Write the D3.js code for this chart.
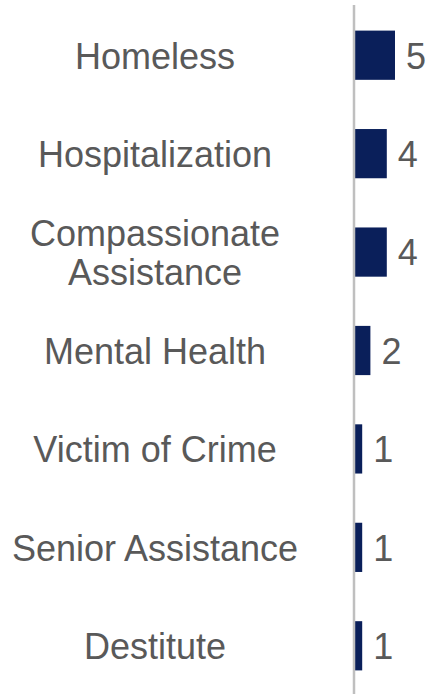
<!DOCTYPE html>
<html><head><meta charset="utf-8">
<script src="https://cdn.jsdelivr.net/npm/d3@7"></script>
<style>html,body{margin:0;padding:0;background:#fff;}svg{display:block;}</style>
</head><body>
<script>
const categories = [["Homeless"], ["Hospitalization"], ["Compassionate", "Assistance"], ["Mental Health"], ["Victim of Crime"], ["Senior Assistance"], ["Destitute"]];
const values = [5, 4, 4, 2, 1, 1, 1];

const W = 433, H = 694;
const svg = d3.select("body").append("svg").attr("width", W).attr("height", H);
const keys = categories.map(c => c.join(" "));
const y = d3.scaleBand().domain(keys).range([6, 695]).paddingInner(0.5).paddingOuter(0.25);
const x = d3.scaleLinear().domain([0, 5]).range([354, 395]);
const data = keys.map((k, i) => ({k, lines: categories[i], v: values[i]}));

svg.selectAll("rect.bar").data(data).join("rect").attr("class", "bar")
  .attr("x", x(0)).attr("y", d => y(d.k))
  .attr("width", d => x(d.v) - x(0)).attr("height", y.bandwidth())
  .attr("fill", "#0a1f5a");

svg.append("line").attr("x1", x(0)).attr("x2", x(0)).attr("y1", 5).attr("y2", H)
  .attr("stroke", "#bfbfbf").attr("stroke-width", 2.5);

const fs = 36, lh = 38.5;
const lab = svg.selectAll("text.cat").data(data).join("text").attr("class", "cat")
  .attr("text-anchor", "middle").attr("font-family", "Liberation Sans, Arial, sans-serif")
  .attr("font-size", fs).attr("fill", "#595959");
lab.each(function(d) {
  const c = y(d.k) + y.bandwidth() / 2;
  const n = d.lines.length;
  d3.select(this).selectAll("tspan").data(d.lines).join("tspan")
    .attr("x", 155)
    .attr("y", (t, j) => c + (j - (n - 1) / 2) * lh + fs * 0.37)
    .text(t => t);
});

svg.selectAll("text.val").data(data).join("text").attr("class", "val")
  .attr("x", d => x(d.v) + 11).attr("y", d => y(d.k) + y.bandwidth() / 2 + fs * 0.37)
  .attr("font-family", "Liberation Sans, Arial, sans-serif").attr("font-size", fs)
  .attr("fill", "#595959").text(d => d.v);
</script>
</body></html>
